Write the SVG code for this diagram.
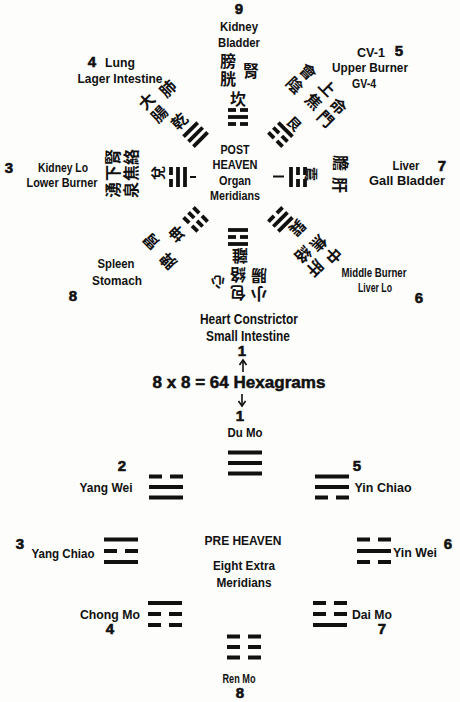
<svg xmlns="http://www.w3.org/2000/svg" xmlns:xlink="http://www.w3.org/1999/xlink" width="460" height="702" viewBox="0 0 460 702">
<style>
.en{font-family:"Liberation Sans",Arial,sans-serif;font-weight:bold;font-size:13.5px;fill:#111;text-anchor:middle}
.ctr{font-size:13px}
.big{font-size:14.5px}
.num{font-family:"Liberation Sans",Arial,sans-serif;font-weight:bold;font-size:15px;fill:#111;text-anchor:middle;stroke:#111;stroke-width:0.6}
.zh{font-family:"Noto Sans CJK TC","Noto Sans CJK SC",sans-serif;font-weight:bold;font-size:16px;fill:#111;text-anchor:middle;dominant-baseline:central}
.zs{font-size:14px}
.bar{fill:#111}
.arrow{fill:none;stroke:#111;stroke-width:1.6}
</style>
<defs>
<marker id="head" viewBox="0 0 8 8" refX="6" refY="4" markerWidth="8" markerHeight="8" markerUnits="userSpaceOnUse" orient="auto">
<path d="M1,0.5 L6,4 L1,7.5" fill="none" stroke="#111" stroke-width="1.6"/>
</marker>
<rect id="sS" class="bar" x="-10" y="-1.9" width="20" height="3.8"/>
<g id="sB"><rect class="bar" x="-10" y="-1.9" width="8" height="3.8"/><rect class="bar" x="2" y="-1.9" width="8" height="3.8"/></g>
<rect id="lS" class="bar" x="-17" y="-2" width="34" height="4"/>
<g id="lB"><rect class="bar" x="-17" y="-2" width="13" height="4"/><rect class="bar" x="4" y="-2" width="13" height="4"/></g>
</defs>
<rect width="460" height="702" fill="#fdfdfb"/>

<!-- POST HEAVEN centre -->
<g id="post-heaven-center">
<text class="en ctr" x="235" y="154" textLength="29" lengthAdjust="spacingAndGlyphs">POST</text>
<text class="en ctr" x="235" y="169" textLength="45" lengthAdjust="spacingAndGlyphs">HEAVEN</text>
<text class="en ctr" x="235" y="185" textLength="32" lengthAdjust="spacingAndGlyphs">Organ</text>
<text class="en ctr" x="235" y="200" textLength="50" lengthAdjust="spacingAndGlyphs">Meridians</text>
<rect class="bar" x="190" y="176" width="6" height="2"/>
<rect class="bar" x="273" y="175.5" width="11" height="2"/>
</g>

<!-- Kan (top, 9) -->
<g id="post-kan">
<g transform="translate(238,177)">
<use href="#sB" y="-67"/><use href="#sS" y="-60"/><use href="#sB" y="-53"/>
<text class="zh" x="0" y="-79">坎</text>
<text class="zh" x="-10" y="-117">膀</text>
<text class="zh" x="-10" y="-99">胱</text>
<text class="zh" x="13" y="-107">腎</text>
</g>
<text class="num" x="239" y="14">9</text>
<text class="en" x="239" y="31" textLength="38" lengthAdjust="spacingAndGlyphs">Kidney</text>
<text class="en" x="239" y="47" textLength="42" lengthAdjust="spacingAndGlyphs">Bladder</text>
</g>

<!-- Qian (top-left, 4) -->
<g id="post-qian">
<g transform="translate(238,177) rotate(-45)">
<use href="#sS" y="-67"/><use href="#sS" y="-60"/><use href="#sS" y="-53"/>
<text class="zh" x="-2" y="-82">乾</text>
<text class="zh" x="-11" y="-119">大</text>
<text class="zh" x="-11" y="-101">腸</text>
<text class="zh" x="13" y="-113">肺</text>
</g>
<text class="num" x="92" y="67">4</text>
<text class="en" x="120" y="67" textLength="30" lengthAdjust="spacingAndGlyphs">Lung</text>
<text class="en" x="120" y="83" textLength="85" lengthAdjust="spacingAndGlyphs">Lager Intestine</text>
</g>

<!-- Gen (top-right, 5) -->
<g id="post-gen">
<g transform="translate(238,177) rotate(45)">
<use href="#sS" y="-67"/><use href="#sB" y="-60"/><use href="#sB" y="-53"/>
<text class="zh zs" x="2" y="-78">艮</text>
<text class="zh" x="-25" y="-125">會</text>
<text class="zh" x="-25" y="-106">陰</text>
<text class="zh" x="0" y="-127">上</text>
<text class="zh" x="0" y="-108">焦</text>
<text class="zh" x="21" y="-122">命</text>
<text class="zh" x="21" y="-104">門</text>
</g>
<text class="en" x="371" y="57" textLength="28" lengthAdjust="spacingAndGlyphs">CV-1</text>
<text class="num" x="399" y="56">5</text>
<text class="en" x="370" y="72" textLength="76" lengthAdjust="spacingAndGlyphs">Upper Burner</text>
<text class="en" x="364" y="88" textLength="24" lengthAdjust="spacingAndGlyphs">GV-4</text>
</g>

<!-- Dui (left, 3) -->
<g id="post-dui">
<g transform="translate(238,177) rotate(-90)">
<use href="#sB" y="-67"/><use href="#sS" y="-60"/><use href="#sS" y="-53"/>
<text class="zh zs" x="4" y="-81">兌</text>
<text class="zh" x="20" y="-126">腎</text>
<text class="zh" x="20" y="-108">絡</text>
<text class="zh" x="4" y="-126">下</text>
<text class="zh" x="4" y="-108">焦</text>
<text class="zh" x="-13" y="-126">湧</text>
<text class="zh" x="-13" y="-108">泉</text>
</g>
<text class="num" x="9" y="173">3</text>
<text class="en" x="63" y="172" textLength="50" lengthAdjust="spacingAndGlyphs">Kidney Lo</text>
<text class="en" x="62" y="187" textLength="71" lengthAdjust="spacingAndGlyphs">Lower Burner</text>
</g>

<!-- Zhen (right, 7) -->
<g id="post-zhen">
<g transform="translate(238,177) rotate(90)">
<use href="#sB" y="-67"/><use href="#sB" y="-60"/><use href="#sS" y="-53"/>
<text class="zh zs" x="-3" y="-74">震</text>
<text class="zh" x="-14" y="-104">膽</text>
<text class="zh" x="8" y="-103">肝</text>
</g>
<text class="en" x="406" y="170" textLength="27" lengthAdjust="spacingAndGlyphs">Liver</text>
<text class="num" x="442" y="171">7</text>
<text class="en" x="407" y="185" textLength="76" lengthAdjust="spacingAndGlyphs">Gall Bladder</text>
</g>

<!-- Kun (bottom-left, 8) -->
<g id="post-kun">
<g transform="translate(238,177) rotate(225)">
<use href="#sB" y="-67"/><use href="#sB" y="-60"/><use href="#sB" y="-53"/>
<text class="zh" x="3" y="-84">坤</text>
<text class="zh" x="16" y="-108">胃</text>
<text class="zh" x="-10" y="-110">脾</text>
</g>
<text class="en" x="116" y="268" textLength="37" lengthAdjust="spacingAndGlyphs">Spleen</text>
<text class="en" x="117" y="285" textLength="50" lengthAdjust="spacingAndGlyphs">Stomach</text>
<text class="num" x="73" y="301">8</text>
</g>

<!-- Xun (bottom-right, 6) -->
<g id="post-xun">
<g transform="translate(238,177) rotate(135)">
<use href="#sS" y="-67"/><use href="#sS" y="-60"/><use href="#sB" y="-53"/>
<text class="zh" x="-6" y="-79">巽</text>
<text class="zh" x="-12" y="-124">中</text>
<text class="zh" x="-10" y="-105">焦</text>
<text class="zh" x="10" y="-120">肝</text>
<text class="zh" x="9" y="-102">絡</text>
</g>
<text class="en" x="374" y="277" textLength="65" lengthAdjust="spacingAndGlyphs">Middle Burner</text>
<text class="en" x="375" y="292" textLength="34" lengthAdjust="spacingAndGlyphs">Liver Lo</text>
<text class="num" x="419" y="303">6</text>
</g>

<!-- Li (bottom, 1) -->
<g id="post-li">
<g transform="translate(238,177) rotate(180)">
<use href="#sS" y="-67"/><use href="#sB" y="-60"/><use href="#sS" y="-53"/>
<text class="zh" x="-2" y="-80">離</text>
<text class="zh zs" x="20" y="-106">心</text>
<text class="zh" x="0" y="-117">包</text>
<text class="zh" x="0" y="-99">絡</text>
<text class="zh" x="-21" y="-118">小</text>
<text class="zh" x="-21" y="-100">腸</text>
</g>
<text class="en big" x="249" y="324" textLength="98" lengthAdjust="spacingAndGlyphs">Heart Constrictor</text>
<text class="en big" x="248" y="341" textLength="84" lengthAdjust="spacingAndGlyphs">Small Intestine</text>
<text class="num" x="242" y="356">1</text>
</g>

<!-- Hexagram caption -->
<g id="hexagrams">
<text class="en" style="font-size:17px;stroke:#111;stroke-width:0.5" x="239" y="388" textLength="173" lengthAdjust="spacingAndGlyphs">8 x 8 = 64 Hexagrams</text>
</g>

<!-- PRE HEAVEN centre -->
<g id="pre-heaven-center">
<text class="en" x="243" y="545" textLength="77" lengthAdjust="spacingAndGlyphs">PRE HEAVEN</text>
<text class="en" x="244" y="570" textLength="62" lengthAdjust="spacingAndGlyphs">Eight Extra</text>
<text class="en" x="244" y="587" textLength="55" lengthAdjust="spacingAndGlyphs">Meridians</text>
</g>

<!-- Du Mo 1 -->
<g id="pre-du-mo">
<text class="num" x="240" y="421">1</text>
<text class="en" x="245" y="437" textLength="35" lengthAdjust="spacingAndGlyphs">Du Mo</text>
<g transform="translate(245,463)"><use href="#lS" y="-10.5"/><use href="#lS" y="0"/><use href="#lS" y="10.5"/></g>
</g>

<!-- Yang Wei 2 -->
<g id="pre-yang-wei">
<text class="num" x="122" y="471">2</text>
<text class="en" x="106" y="492" textLength="53" lengthAdjust="spacingAndGlyphs">Yang Wei</text>
<g transform="translate(166,487)"><use href="#lB" y="-10.5"/><use href="#lS" y="0"/><use href="#lS" y="10.5"/></g>
</g>

<!-- Yin Chiao 5 -->
<g id="pre-yin-chiao">
<text class="num" x="357" y="471">5</text>
<text class="en" x="383" y="492" textLength="57" lengthAdjust="spacingAndGlyphs">Yin Chiao</text>
<g transform="translate(332,487)"><use href="#lS" y="-10.5"/><use href="#lS" y="0"/><use href="#lB" y="10.5"/></g>
</g>

<!-- Yang Chiao 3 -->
<g id="pre-yang-chiao">
<text class="num" x="20" y="549">3</text>
<text class="en" x="63" y="558" textLength="63" lengthAdjust="spacingAndGlyphs">Yang Chiao</text>
<g transform="translate(121,551)"><use href="#lS" y="-11.5"/><use href="#lB" y="0"/><use href="#lS" y="11"/></g>
</g>

<!-- Yin Wei 6 -->
<g id="pre-yin-wei">
<g transform="translate(374,551)"><use href="#lB" y="-11.5"/><use href="#lS" y="0"/><use href="#lB" y="11"/></g>
<text class="en" x="415" y="557" textLength="44" lengthAdjust="spacingAndGlyphs">Yin Wei</text>
<text class="num" x="448" y="549">6</text>
</g>

<!-- Chong Mo 4 -->
<g id="pre-chong-mo">
<text class="en" x="110" y="619" textLength="60" lengthAdjust="spacingAndGlyphs">Chong Mo</text>
<text class="num" x="110" y="634">4</text>
<g transform="translate(165,614)"><use href="#lS" y="-11"/><use href="#lB" y="0"/><use href="#lB" y="11"/></g>
</g>

<!-- Dai Mo 7 -->
<g id="pre-dai-mo">
<g transform="translate(330,614)"><use href="#lB" y="-11"/><use href="#lB" y="0"/><use href="#lS" y="11"/></g>
<text class="en" x="372" y="619" textLength="40" lengthAdjust="spacingAndGlyphs">Dai Mo</text>
<text class="num" x="382" y="634">7</text>
</g>

<!-- Ren Mo 8 -->
<g id="pre-ren-mo">
<g transform="translate(244,647)"><use href="#lB" y="-10.5"/><use href="#lB" y="0"/><use href="#lB" y="10.5"/></g>
<text class="en" x="239" y="683" textLength="33" lengthAdjust="spacingAndGlyphs">Ren Mo</text>
<text class="num" x="240" y="698">8</text>
</g>

<!-- connectors -->
<g id="connectors">
<path class="arrow" d="M243 372 V360" marker-end="url(#head)"/>
<path class="arrow" d="M242 394 V406" marker-end="url(#head)"/>
</g>
</svg>
